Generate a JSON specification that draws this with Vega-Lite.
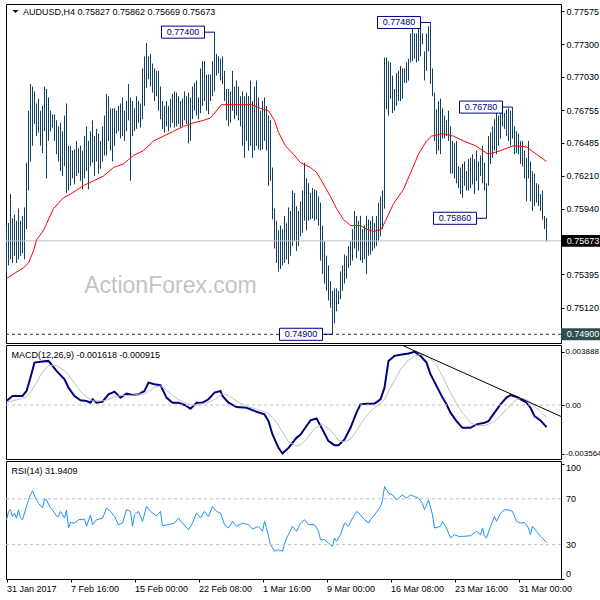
{
"$schema":"https://vega.github.io/schema/vega-lite/v6.json",
"padding":{"left":2,"top":3,"right":0,"bottom":0},
"spacing":2,
"bounds":"flush",
"background":"white",
"config":{"view":{"stroke":"black","strokeWidth":1},"font":"Liberation Sans"},
"datasets":{
"one":[{"k":1}],
"bars":[{"i":0,"h":0.758,"l":0.7541},{"i":1,"h":0.7582,"l":0.7547},{"i":2,"h":0.7606,"l":0.7552},{"i":3,"h":0.7586,"l":0.7549},{"i":4,"h":0.7589,"l":0.7555},{"i":5,"h":0.7584,"l":0.7549},{"i":6,"h":0.7594,"l":0.7552},{"i":7,"h":0.7584,"l":0.7555},{"i":8,"h":0.7588,"l":0.7557},{"i":9,"h":0.7595,"l":0.7552},
{"i":10,"h":0.7632,"l":0.7577},{"i":11,"h":0.7675,"l":0.7609},{"i":12,"h":0.7697,"l":0.7633},{"i":13,"h":0.7695,"l":0.7646},{"i":14,"h":0.7691,"l":0.7664},{"i":15,"h":0.7681,"l":0.7654},{"i":16,"h":0.7685,"l":0.7657},{"i":17,"h":0.7675,"l":0.7646},{"i":18,"h":0.7679,"l":0.764},{"i":19,"h":0.7695,"l":0.7658},
{"i":20,"h":0.7693,"l":0.7619},{"i":21,"h":0.7686,"l":0.765},{"i":22,"h":0.7675,"l":0.7658},{"i":23,"h":0.7672,"l":0.7661},{"i":24,"h":0.7672,"l":0.765},{"i":25,"h":0.7667,"l":0.7639},{"i":26,"h":0.7662,"l":0.7633},{"i":27,"h":0.7665,"l":0.7625},{"i":28,"h":0.7658,"l":0.7621},{"i":29,"h":0.7671,"l":0.7629},
{"i":30,"h":0.7681,"l":0.7607},{"i":31,"h":0.7646,"l":0.7609},{"i":32,"h":0.7646,"l":0.7613},{"i":33,"h":0.7642,"l":0.7619},{"i":34,"h":0.7643,"l":0.7614},{"i":35,"h":0.765,"l":0.7621},{"i":36,"h":0.7644,"l":0.7623},{"i":37,"h":0.7646,"l":0.7617},{"i":38,"h":0.7642,"l":0.761},{"i":39,"h":0.7654,"l":0.7619},
{"i":40,"h":0.7662,"l":0.7625},{"i":41,"h":0.765,"l":0.761},{"i":42,"h":0.7658,"l":0.7629},{"i":43,"h":0.7667,"l":0.7632},{"i":44,"h":0.7654,"l":0.7621},{"i":45,"h":0.766,"l":0.7633},{"i":46,"h":0.7656,"l":0.7623},{"i":47,"h":0.765,"l":0.7627},{"i":48,"h":0.7662,"l":0.7633},{"i":49,"h":0.7671,"l":0.7638},
{"i":50,"h":0.7689,"l":0.7638},{"i":51,"h":0.7687,"l":0.765},{"i":52,"h":0.7677,"l":0.7642},{"i":53,"h":0.7677,"l":0.7633},{"i":54,"h":0.7677,"l":0.7646},{"i":55,"h":0.7675,"l":0.7656},{"i":56,"h":0.7679,"l":0.7658},{"i":57,"h":0.7681,"l":0.7652},{"i":58,"h":0.7686,"l":0.7654},{"i":59,"h":0.7675,"l":0.765},
{"i":60,"h":0.7683,"l":0.7658},{"i":61,"h":0.7697,"l":0.7667},{"i":62,"h":0.7686,"l":0.7617},{"i":63,"h":0.7683,"l":0.7654},{"i":64,"h":0.7677,"l":0.7658},{"i":65,"h":0.7687,"l":0.766},{"i":66,"h":0.7683,"l":0.7665},{"i":67,"h":0.7681,"l":0.7661},{"i":68,"h":0.771,"l":0.7668},{"i":69,"h":0.772,"l":0.7679},
{"i":70,"h":0.7731,"l":0.7694},{"i":71,"h":0.772,"l":0.7701},{"i":72,"h":0.7722,"l":0.7695},{"i":73,"h":0.7714,"l":0.769},{"i":74,"h":0.771,"l":0.7683},{"i":75,"h":0.7708,"l":0.7687},{"i":76,"h":0.7708,"l":0.7675},{"i":77,"h":0.7695,"l":0.7668},{"i":78,"h":0.7683,"l":0.766},{"i":79,"h":0.7679,"l":0.7657},
{"i":80,"h":0.7683,"l":0.7662},{"i":81,"h":0.7679,"l":0.7658},{"i":82,"h":0.7685,"l":0.7661},{"i":83,"h":0.7689,"l":0.7665},{"i":84,"h":0.7691,"l":0.7661},{"i":85,"h":0.769,"l":0.7662},{"i":86,"h":0.7687,"l":0.7664},{"i":87,"h":0.7683,"l":0.7661},{"i":88,"h":0.7685,"l":0.7662},{"i":89,"h":0.7691,"l":0.7667},
{"i":90,"h":0.7687,"l":0.7664},{"i":91,"h":0.769,"l":0.7648},{"i":92,"h":0.7686,"l":0.765},{"i":93,"h":0.7695,"l":0.7668},{"i":94,"h":0.7698,"l":0.7675},{"i":95,"h":0.77,"l":0.7671},{"i":96,"h":0.7686,"l":0.7668},{"i":97,"h":0.771,"l":0.7673},{"i":98,"h":0.7716,"l":0.7679},{"i":99,"h":0.7716,"l":0.7683},
{"i":100,"h":0.7705,"l":0.7675},{"i":101,"h":0.7705,"l":0.7672},{"i":102,"h":0.7705,"l":0.7683},{"i":103,"h":0.7716,"l":0.7687},{"i":104,"h":0.774,"l":0.7691},{"i":105,"h":0.7722,"l":0.7704},{"i":106,"h":0.772,"l":0.7706},{"i":107,"h":0.7718,"l":0.77},{"i":108,"h":0.772,"l":0.7697},{"i":109,"h":0.7708,"l":0.7683},
{"i":110,"h":0.7693,"l":0.7667},{"i":111,"h":0.7693,"l":0.7662},{"i":112,"h":0.7691,"l":0.7665},{"i":113,"h":0.7708,"l":0.7675},{"i":114,"h":0.7695,"l":0.7668},{"i":115,"h":0.77,"l":0.7671},{"i":116,"h":0.7695,"l":0.7667},{"i":117,"h":0.7687,"l":0.7662},{"i":118,"h":0.7691,"l":0.7646},{"i":119,"h":0.7687,"l":0.7636},
{"i":120,"h":0.769,"l":0.765},{"i":121,"h":0.7687,"l":0.7642},{"i":122,"h":0.77,"l":0.7646},{"i":123,"h":0.7683,"l":0.7636},{"i":124,"h":0.7695,"l":0.7642},{"i":125,"h":0.77,"l":0.7646},{"i":126,"h":0.7686,"l":0.7643},{"i":127,"h":0.7675,"l":0.7642},{"i":128,"h":0.7683,"l":0.7643},{"i":129,"h":0.7686,"l":0.765},
{"i":130,"h":0.7679,"l":0.7642},{"i":131,"h":0.7671,"l":0.7613},{"i":132,"h":0.7667,"l":0.7617},{"i":133,"h":0.7628,"l":0.7585},{"i":134,"h":0.7594,"l":0.7561},{"i":135,"h":0.7584,"l":0.7549},{"i":136,"h":0.7576,"l":0.7542},{"i":137,"h":0.758,"l":0.7544},{"i":138,"h":0.7577,"l":0.7547},{"i":139,"h":0.7588,"l":0.7549},
{"i":140,"h":0.7582,"l":0.7552},{"i":141,"h":0.7595,"l":0.7548},{"i":142,"h":0.7592,"l":0.7555},{"i":143,"h":0.7609,"l":0.7563},{"i":144,"h":0.7607,"l":0.7567},{"i":145,"h":0.7596,"l":0.7559},{"i":146,"h":0.7592,"l":0.7563},{"i":147,"h":0.76,"l":0.7571},{"i":148,"h":0.7609,"l":0.7574},{"i":149,"h":0.7632,"l":0.7584},
{"i":150,"h":0.7619,"l":0.7576},{"i":151,"h":0.7615,"l":0.7584},{"i":152,"h":0.7607,"l":0.7585},{"i":153,"h":0.7611,"l":0.7586},{"i":154,"h":0.761,"l":0.7584},{"i":155,"h":0.7609,"l":0.7585},{"i":156,"h":0.7604,"l":0.758},{"i":157,"h":0.7599,"l":0.7551},{"i":158,"h":0.758,"l":0.754},{"i":159,"h":0.7567,"l":0.7532},
{"i":160,"h":0.7555,"l":0.7526},{"i":161,"h":0.7547,"l":0.7518},{"i":162,"h":0.7534,"l":0.7512},{"i":163,"h":0.7526,"l":0.749},{"i":164,"h":0.7528,"l":0.7499},{"i":165,"h":0.7528,"l":0.7509},{"i":166,"h":0.7526,"l":0.7515},{"i":167,"h":0.7542,"l":0.7519},{"i":168,"h":0.7547,"l":0.7526},{"i":169,"h":0.7556,"l":0.7532},
{"i":170,"h":0.7555,"l":0.7536},{"i":171,"h":0.7563,"l":0.7545},{"i":172,"h":0.7567,"l":0.7547},{"i":173,"h":0.7577,"l":0.7551},{"i":174,"h":0.7592,"l":0.7561},{"i":175,"h":0.7588,"l":0.7553},{"i":176,"h":0.7584,"l":0.7559},{"i":177,"h":0.7588,"l":0.7551},{"i":178,"h":0.7577,"l":0.7549},{"i":179,"h":0.758,"l":0.7552},
{"i":180,"h":0.7588,"l":0.754},{"i":181,"h":0.7585,"l":0.7555},{"i":182,"h":0.7584,"l":0.7556},{"i":183,"h":0.7588,"l":0.7559},{"i":184,"h":0.7582,"l":0.7561},{"i":185,"h":0.7588,"l":0.7563},{"i":186,"h":0.7599,"l":0.7567},{"i":187,"h":0.7604,"l":0.7571},{"i":188,"h":0.7609,"l":0.7577},{"i":189,"h":0.7719,"l":0.7594},
{"i":190,"h":0.7719,"l":0.7676},{"i":191,"h":0.7716,"l":0.7671},{"i":192,"h":0.7715,"l":0.7685},{"i":193,"h":0.7704,"l":0.7673},{"i":194,"h":0.7693,"l":0.7675},{"i":195,"h":0.7706,"l":0.7679},{"i":196,"h":0.7708,"l":0.7683},{"i":197,"h":0.7712,"l":0.7683},{"i":198,"h":0.771,"l":0.7685},{"i":199,"h":0.771,"l":0.7698},
{"i":200,"h":0.7715,"l":0.7698},{"i":201,"h":0.7718,"l":0.77},{"i":202,"h":0.7739,"l":0.7715},{"i":203,"h":0.7745,"l":0.7716},{"i":204,"h":0.7739,"l":0.7718},{"i":205,"h":0.7739,"l":0.7715},{"i":206,"h":0.7745,"l":0.7716},{"i":207,"h":0.7745,"l":0.772},{"i":208,"h":0.7739,"l":0.773},{"i":209,"h":0.7724,"l":0.77},
{"i":210,"h":0.7739,"l":0.7708},{"i":211,"h":0.7745,"l":0.7724},{"i":212,"h":0.7748,"l":0.7697},{"i":213,"h":0.771,"l":0.7687},{"i":214,"h":0.769,"l":0.765},{"i":215,"h":0.7676,"l":0.7639},{"i":216,"h":0.7683,"l":0.7642},{"i":217,"h":0.7685,"l":0.7639},{"i":218,"h":0.7677,"l":0.7652},{"i":219,"h":0.7671,"l":0.7652},
{"i":220,"h":0.7667,"l":0.7654},{"i":221,"h":0.7675,"l":0.765},{"i":222,"h":0.7662,"l":0.7623},{"i":223,"h":0.765,"l":0.7623},{"i":224,"h":0.7648,"l":0.7619},{"i":225,"h":0.765,"l":0.7615},{"i":226,"h":0.7629,"l":0.7611},{"i":227,"h":0.7628,"l":0.7606},{"i":228,"h":0.7631,"l":0.7603},{"i":229,"h":0.7633,"l":0.7613},
{"i":230,"h":0.7625,"l":0.7609},{"i":231,"h":0.7635,"l":0.7609},{"i":232,"h":0.7636,"l":0.7611},{"i":233,"h":0.7639,"l":0.7614},{"i":234,"h":0.7635,"l":0.7606},{"i":235,"h":0.7642,"l":0.7617},{"i":236,"h":0.7633,"l":0.7609},{"i":237,"h":0.7638,"l":0.7621},{"i":238,"h":0.7646,"l":0.7615},{"i":239,"h":0.7632,"l":0.7609},
{"i":240,"h":0.7615,"l":0.7586},{"i":241,"h":0.7654,"l":0.7613},{"i":242,"h":0.7657,"l":0.7631},{"i":243,"h":0.7662,"l":0.7636},{"i":244,"h":0.7668,"l":0.7642},{"i":245,"h":0.7675,"l":0.7639},{"i":246,"h":0.7671,"l":0.7646},{"i":247,"h":0.7676,"l":0.7652},{"i":248,"h":0.7675,"l":0.7662},{"i":249,"h":0.7673,"l":0.766},
{"i":250,"h":0.7676,"l":0.7654},{"i":251,"h":0.7677,"l":0.765},{"i":252,"h":0.7675,"l":0.7646},{"i":253,"h":0.7678,"l":0.7652},{"i":254,"h":0.7662,"l":0.7639},{"i":255,"h":0.7658,"l":0.764},{"i":256,"h":0.7656,"l":0.7639},{"i":257,"h":0.765,"l":0.7631},{"i":258,"h":0.765,"l":0.7629},{"i":259,"h":0.7642,"l":0.7619},
{"i":260,"h":0.7636,"l":0.76},{"i":261,"h":0.765,"l":0.7619},{"i":262,"h":0.7633,"l":0.76},{"i":263,"h":0.7625,"l":0.7592},{"i":264,"h":0.7623,"l":0.7596},{"i":265,"h":0.7615,"l":0.7599},{"i":266,"h":0.7614,"l":0.7596},{"i":267,"h":0.7606,"l":0.7592},{"i":268,"h":0.7609,"l":0.7585},{"i":269,"h":0.7588,"l":0.7577},
{"i":270,"h":0.75862,"l":0.75669}],
"ma":[{"i":0,"p":0.7536},{"i":4.5,"p":0.7541},{"i":8.5,"p":0.7545},{"i":11,"p":0.7549},{"i":13.5,"p":0.7559},{"i":15,"p":0.7568},{"i":18.5,"p":0.7576},{"i":23.5,"p":0.7594},{"i":28.5,"p":0.7603},{"i":32,"p":0.7606},{"i":38.5,"p":0.7613},{"i":43.5,"p":0.7617},{"i":48.5,"p":0.7621},{"i":53.5,"p":0.7628},{"i":58.5,"p":0.7631},{"i":63.5,"p":0.7638},{"i":68.5,"p":0.7642},{"i":73.5,"p":0.765},{"i":78.5,"p":0.7654},{"i":83.5,"p":0.7658},{"i":88.5,"p":0.7662},{"i":93.5,"p":0.7665},{"i":98.5,"p":0.7667},{"i":102,"p":0.7669},{"i":107.5,"p":0.768},{"i":122.5,"p":0.768},{"i":128.5,"p":0.7676},{"i":131,"p":0.7675},{"i":134,"p":0.7667},{"i":136,"p":0.7657},{"i":139.5,"p":0.7646},{"i":143.5,"p":0.7639},{"i":147,"p":0.7632},{"i":152,"p":0.7628},{"i":155,"p":0.7624},{"i":157.5,"p":0.7617},{"i":162,"p":0.7604},{"i":165,"p":0.7594},{"i":168.5,"p":0.7585},{"i":172,"p":0.758},{"i":177,"p":0.758},{"i":180,"p":0.7577},{"i":183.5,"p":0.7575},{"i":187.5,"p":0.7577},{"i":189.5,"p":0.7584},{"i":193.5,"p":0.7598},{"i":198.5,"p":0.761},{"i":206,"p":0.7639},{"i":210,"p":0.765},{"i":212.5,"p":0.7654},{"i":218.5,"p":0.7656},{"i":223.5,"p":0.7654},{"i":228.5,"p":0.765},{"i":234.5,"p":0.7646},{"i":241,"p":0.7639},{"i":247,"p":0.7642},{"i":253.5,"p":0.7646},{"i":260,"p":0.7645},{"i":265,"p":0.7639},{"i":270,"p":0.7633}],
"ann":[{"i":104,"p":0.774,"t":"0.77400"},{"i":212,"p":0.7748,"t":"0.77480"},{"i":253,"p":0.7678,"t":"0.76780"},{"i":240,"p":0.7586,"t":"0.75860"},{"i":163,"p":0.749,"t":"0.74900"}],
"hl":[{"p":0.75673,"c":"#000000","t":"0.75673"},{"p":0.749,"c":"#2f4f4f","t":"0.74900"}],
"macd":[{"i":0,"m":0.00029,"s":0.0002},{"i":3,"m":0.00066,"s":0.0003},{"i":8,"m":0.00066,"s":0.0005},{"i":10,"m":0.00103,"s":0.0006},{"i":12,"m":0.00201,"s":0.0009},{"i":14,"m":0.00311,"s":0.0014},{"i":18,"m":0.00319,"s":0.0024},{"i":21,"m":0.00323,"s":0.0029},{"i":25,"m":0.0025,"s":0.0029},{"i":29,"m":0.00189,"s":0.0025},{"i":31,"m":0.00127,"s":0.0022},{"i":34,"m":0.00066,"s":0.0016},{"i":37,"m":0.00034,"s":0.001},{"i":40,"m":0.00029,"s":0.0006},{"i":42,"m":0.00017,"s":0.0004},{"i":43,"m":0.00042,"s":0.0003},{"i":45,"m":0.00017,"s":0.0003},{"i":48,"m":0.00024,"s":0.0003},{"i":51,"m":0.00078,"s":0.0004},{"i":54,"m":0.00098,"s":0.0006},{"i":57,"m":0.00054,"s":0.0007},{"i":60,"m":0.00083,"s":0.0007},{"i":63,"m":0.00073,"s":0.0007},{"i":66,"m":0.00078,"s":0.0008},{"i":69,"m":0.00103,"s":0.0008},{"i":71,"m":0.00164,"s":0.001},{"i":74,"m":0.00152,"s":0.0013},{"i":77,"m":0.00145,"s":0.0014},{"i":80,"m":0.00054,"s":0.0011},{"i":83,"m":0.00017,"s":0.0007},{"i":86,"m":0.00017,"s":0.0004},{"i":89,"m":0.0,"s":0.0002},{"i":92,"m":-0.00027,"s":0.0},{"i":95,"m":0.00017,"s":0.0},{"i":98,"m":0.00017,"s":0.0001},{"i":101,"m":0.00042,"s":0.0002},{"i":104,"m":0.00091,"s":0.0004},{"i":107,"m":0.00103,"s":0.0007},{"i":108,"m":0.00066,"s":0.0008},{"i":111,"m":0.00017,"s":0.0007},{"i":115,"m":-0.00015,"s":0.0003},{"i":120,"m":-0.0002,"s":-0.0001},{"i":125,"m":-0.00049,"s":-0.0003},{"i":129,"m":-0.00069,"s":-0.0005},{"i":131,"m":-0.00118,"s":-0.0006},{"i":133,"m":-0.00216,"s":-0.0009},{"i":136,"m":-0.00314,"s":-0.0015},{"i":138,"m":-0.00356,"s":-0.002},{"i":141,"m":-0.00314,"s":-0.0027},{"i":145,"m":-0.0024,"s":-0.003},{"i":147,"m":-0.00216,"s":-0.0029},{"i":150,"m":-0.00154,"s":-0.0025},{"i":152,"m":-0.00113,"s":-0.0021},{"i":155,"m":-0.00098,"s":-0.0016},{"i":158,"m":-0.00179,"s":-0.0014},{"i":161,"m":-0.00265,"s":-0.0017},{"i":164,"m":-0.00294,"s":-0.0022},{"i":166,"m":-0.00294,"s":-0.0026},{"i":169,"m":-0.00252,"s":-0.0027},{"i":172,"m":-0.00167,"s":-0.0025},{"i":175,"m":-0.00056,"s":-0.0019},{"i":177,"m":0.00005,"s":-0.0014},{"i":180,"m":0.0001,"s":-0.0008},{"i":184,"m":0.0001,"s":-0.0002},{"i":187,"m":0.00042,"s":0.0001},{"i":189,"m":0.00127,"s":0.0004},{"i":191,"m":0.00323,"s":0.001},{"i":194,"m":0.0036,"s":0.0018},{"i":197,"m":0.00368,"s":0.0026},{"i":201,"m":0.00377,"s":0.0033},{"i":204,"m":0.00389,"s":0.0036},{"i":207,"m":0.0036,"s":0.0037},{"i":210,"m":0.00311,"s":0.0036},{"i":212,"m":0.00225,"s":0.0034},{"i":215,"m":0.0014,"s":0.0029},{"i":218,"m":0.00054,"s":0.0021},{"i":220,"m":0.00005,"s":0.0015},{"i":222,"m":-0.00056,"s":0.0009},{"i":225,"m":-0.00118,"s":0.0001},{"i":228,"m":-0.00167,"s":-0.0006},{"i":232,"m":-0.00167,"s":-0.0013},{"i":235,"m":-0.00142,"s":-0.0015},{"i":239,"m":-0.0013,"s":-0.0015},{"i":241,"m":-0.00118,"s":-0.0014},{"i":244,"m":-0.00056,"s":-0.0012},{"i":247,"m":0.00005,"s":-0.0008},{"i":250,"m":0.00054,"s":-0.0003},{"i":252,"m":0.00073,"s":0.0},{"i":255,"m":0.00059,"s":0.0004},{"i":258,"m":0.00034,"s":0.0005},{"i":260,"m":0.00017,"s":0.0004},{"i":262,"m":-0.0002,"s":0.0002},{"i":264,"m":-0.00081,"s":-0.0001},{"i":267,"m":-0.00113,"s":-0.0005},{"i":270,"m":-0.001618,"s":-0.000915}],
"rsi":[{"i":0,"r":51.7},{"i":1,"r":59},{"i":2,"r":60.4},{"i":3,"r":54.6},{"i":4,"r":57.5},{"i":5,"r":53},{"i":6,"r":60.4},{"i":7,"r":53.2},{"i":8,"r":51.7},{"i":10,"r":63.3},{"i":11,"r":69},{"i":12,"r":73.5},{"i":13,"r":77},{"i":15,"r":69},{"i":16,"r":66},{"i":18,"r":61.9},{"i":19,"r":69.7},{"i":20,"r":69},{"i":22,"r":62},{"i":23,"r":60.4},{"i":25,"r":55},{"i":26,"r":54.6},{"i":27,"r":59},{"i":29,"r":53.2},{"i":30,"r":60},{"i":31,"r":44.5},{"i":32,"r":49.4},{"i":34,"r":48.8},{"i":36,"r":51.7},{"i":39,"r":52.3},{"i":40,"r":46},{"i":42,"r":56},{"i":43,"r":47.4},{"i":45,"r":51.7},{"i":48,"r":53},{"i":50,"r":62},{"i":52,"r":59},{"i":54,"r":54.6},{"i":56,"r":47.4},{"i":58,"r":48.8},{"i":60,"r":60.4},{"i":62,"r":59},{"i":63,"r":46},{"i":64,"r":56},{"i":66,"r":59},{"i":68,"r":50.3},{"i":70,"r":63.3},{"i":72,"r":59},{"i":75,"r":55},{"i":77,"r":59},{"i":78,"r":46.5},{"i":81,"r":47.4},{"i":84,"r":48.8},{"i":86,"r":53.2},{"i":88,"r":48.8},{"i":91,"r":43},{"i":93,"r":48.8},{"i":95,"r":57.5},{"i":97,"r":53.2},{"i":99,"r":59},{"i":101,"r":54.6},{"i":103,"r":63.3},{"i":105,"r":59},{"i":107,"r":57.5},{"i":109,"r":47.4},{"i":111,"r":44.5},{"i":113,"r":50.3},{"i":115,"r":46},{"i":118,"r":48.8},{"i":121,"r":47.4},{"i":123,"r":43.6},{"i":126,"r":46},{"i":128,"r":41.6},{"i":129,"r":50.3},{"i":130,"r":44.5},{"i":132,"r":30},{"i":134,"r":24.2},{"i":136,"r":25.6},{"i":138,"r":24.2},{"i":140,"r":35.8},{"i":141,"r":38.7},{"i":143,"r":46},{"i":145,"r":41.6},{"i":147,"r":48.8},{"i":149,"r":51.7},{"i":151,"r":47.4},{"i":154,"r":47.4},{"i":156,"r":41.6},{"i":157,"r":34.3},{"i":159,"r":34.3},{"i":161,"r":31.4},{"i":163,"r":28.5},{"i":164,"r":35.8},{"i":165,"r":32.9},{"i":167,"r":38.7},{"i":169,"r":48.8},{"i":171,"r":46},{"i":173,"r":53.2},{"i":175,"r":59},{"i":177,"r":56},{"i":179,"r":51.7},{"i":181,"r":48.8},{"i":182,"r":51.7},{"i":184,"r":56},{"i":187,"r":63.3},{"i":188,"r":69},{"i":189,"r":80.7},{"i":191,"r":75},{"i":193,"r":73.5},{"i":195,"r":69},{"i":196,"r":70.6},{"i":198,"r":73.5},{"i":200,"r":70.6},{"i":202,"r":73.5},{"i":204,"r":72},{"i":206,"r":70.6},{"i":208,"r":66},{"i":209,"r":60.4},{"i":211,"r":69},{"i":213,"r":56},{"i":214,"r":44.5},{"i":217,"r":46},{"i":218,"r":50.3},{"i":220,"r":44.5},{"i":222,"r":35.8},{"i":224,"r":38.7},{"i":226,"r":37.2},{"i":228,"r":37.2},{"i":232,"r":37.8},{"i":235,"r":41.6},{"i":237,"r":38.7},{"i":238,"r":44.5},{"i":239,"r":37.2},{"i":240,"r":35.8},{"i":242,"r":46},{"i":244,"r":54.6},{"i":245,"r":50.3},{"i":247,"r":57.5},{"i":249,"r":60.4},{"i":251,"r":60.4},{"i":253,"r":59},{"i":255,"r":50.3},{"i":257,"r":48.8},{"i":259,"r":49.4},{"i":261,"r":44.5},{"i":262,"r":38.7},{"i":263,"r":46},{"i":265,"r":41.6},{"i":267,"r":37.2},{"i":270,"r":31.94}]
},
"vconcat":[
{"width":555,"height":339,
 "layer":[
  {"data":{"name":"bars"},"mark":{"type":"rule","color":"#133f5c","strokeWidth":1},
   "encoding":{"x":{"field":"i","type":"quantitative","scale":{"domain":[-0.25,277.25],"nice":false,"zero":false},"axis":null},
    "y":{"field":"l","type":"quantitative","scale":{"domain":[0.74828,0.77633],"nice":false,"zero":false},
     "axis":{"orient":"right","title":null,"values":[0.77575,0.773,0.7703,0.76755,0.76485,0.7621,0.7594,0.75395,0.7512],"format":".5f","labelOverlap":false,"grid":false,"domain":false,"tickSize":3,"tickColor":"black","labelPadding":2,"labelFontSize":9,"labelColor":"black","labelFont":"Liberation Sans"}},
    "y2":{"field":"h"}}},
  {"data":{"name":"one"},"mark":{"type":"text","font":"Liberation Sans","fontSize":23,"color":"#c4c4c4","align":"center","baseline":"middle"},
   "encoding":{"x":{"datum":82,"type":"quantitative","scale":{"domain":[-0.25,277.25],"nice":false,"zero":false},"axis":null},
    "y":{"datum":0.753,"type":"quantitative","scale":{"domain":[0.74828,0.77633],"nice":false,"zero":false}},
    "text":{"value":"ActionForex.com"}}},
  {"data":{"name":"one"},"mark":{"type":"rule","color":"#c0c0c0","strokeWidth":1},
   "encoding":{"y":{"datum":0.75673,"type":"quantitative","scale":{"domain":[0.74828,0.77633],"nice":false,"zero":false}}}},
  {"data":{"name":"one"},"mark":{"type":"rule","color":"#303030","strokeWidth":1,"strokeDash":[3,3]},
   "encoding":{"y":{"datum":0.749,"type":"quantitative","scale":{"domain":[0.74828,0.77633],"nice":false,"zero":false}}}},
  {"data":{"name":"ma"},"mark":{"type":"line","color":"#ff0000","strokeWidth":1},
   "encoding":{"x":{"field":"i","type":"quantitative","scale":{"domain":[-0.25,277.25],"nice":false,"zero":false},"axis":null},
    "y":{"field":"p","type":"quantitative","scale":{"domain":[0.74828,0.77633],"nice":false,"zero":false}}}},
  {"data":{"name":"ann"},"mark":{"type":"rule","color":"#000080","strokeWidth":1,"xOffset":-10},
   "encoding":{"x":{"field":"i","type":"quantitative","scale":{"domain":[-0.25,277.25],"nice":false,"zero":false},"axis":null},
    "x2":{"field":"i"},
    "y":{"field":"p","type":"quantitative","scale":{"domain":[0.74828,0.77633],"nice":false,"zero":false}}}},
  {"data":{"name":"ann"},"mark":{"type":"point","shape":"M-1,-0.28H1V0.28H-1Z","size":1849,"filled":true,"fill":"white","stroke":"#000080","strokeWidth":1,"opacity":1,"xOffset":-31.5},
   "encoding":{"x":{"field":"i","type":"quantitative","scale":{"domain":[-0.25,277.25],"nice":false,"zero":false},"axis":null},
    "y":{"field":"p","type":"quantitative","scale":{"domain":[0.74828,0.77633],"nice":false,"zero":false}}}},
  {"data":{"name":"ann"},"mark":{"type":"text","font":"Liberation Sans","fontSize":9,"color":"#000080","align":"center","baseline":"middle","xOffset":-31.5},
   "encoding":{"x":{"field":"i","type":"quantitative","scale":{"domain":[-0.25,277.25],"nice":false,"zero":false},"axis":null},
    "y":{"field":"p","type":"quantitative","scale":{"domain":[0.74828,0.77633],"nice":false,"zero":false}},
    "text":{"field":"t"}}},
  {"data":{"name":"hl"},"mark":{"type":"point","shape":"M-1,-0.27H1V0.27H-1Z","size":1936,"filled":true,"opacity":1,"strokeWidth":0,"xOffset":22,"clip":false},
   "encoding":{"x":{"datum":277.25,"type":"quantitative","scale":{"domain":[-0.25,277.25],"nice":false,"zero":false},"axis":null},
    "y":{"field":"p","type":"quantitative","scale":{"domain":[0.74828,0.77633],"nice":false,"zero":false}},
    "fill":{"field":"c","type":"nominal","scale":null,"legend":null}}},
  {"data":{"name":"hl"},"mark":{"type":"text","font":"Liberation Sans","fontSize":9,"color":"white","align":"center","baseline":"middle","xOffset":22,"clip":false},
   "encoding":{"x":{"datum":277.25,"type":"quantitative","scale":{"domain":[-0.25,277.25],"nice":false,"zero":false},"axis":null},
    "y":{"field":"p","type":"quantitative","scale":{"domain":[0.74828,0.77633],"nice":false,"zero":false}},
    "text":{"field":"t"}}},
  {"data":{"name":"one"},"mark":{"type":"point","shape":"M-1,-0.5L1,-0.5L0,0.5Z","size":36,"filled":true,"fill":"black","opacity":1,"strokeWidth":0,"xOffset":9.5},
   "encoding":{"x":{"datum":-0.25,"type":"quantitative","scale":{"domain":[-0.25,277.25],"nice":false,"zero":false},"axis":null},
    "y":{"datum":0.7757,"type":"quantitative","scale":{"domain":[0.74828,0.77633],"nice":false,"zero":false}}}},
  {"data":{"name":"one"},"mark":{"type":"text","font":"Liberation Sans","fontSize":9,"color":"black","align":"left","baseline":"middle","xOffset":17},
   "encoding":{"x":{"datum":-0.25,"type":"quantitative","scale":{"domain":[-0.25,277.25],"nice":false,"zero":false},"axis":null},
    "y":{"datum":0.7757,"type":"quantitative","scale":{"domain":[0.74828,0.77633],"nice":false,"zero":false}},
    "text":{"value":"AUDUSD,H4  0.75827 0.75862 0.75669 0.75673"}}}
 ]},
{"width":555,"height":114,
 "layer":[
  {"data":{"name":"macd"},"mark":{"type":"line","color":"#000080","strokeWidth":2},
   "encoding":{"x":{"field":"i","type":"quantitative","scale":{"domain":[-0.25,277.25],"nice":false,"zero":false},"axis":null},
    "y":{"field":"m","type":"quantitative","scale":{"domain":[-0.003956,0.004396],"nice":false,"zero":false},
     "axis":{"orient":"right","title":null,"values":[0.003888,0,-0.003564],"labelExpr":"datum.value == 0 ? '0.00' : '' + datum.value","labelOverlap":false,"grid":false,"domain":false,"tickSize":3,"tickColor":"black","labelPadding":1,"labelFontSize":8,"labelColor":"black","labelFont":"Liberation Sans"}}}},
  {"data":{"name":"one"},"mark":{"type":"rule","color":"#c0c0c0","strokeWidth":1,"strokeDash":[3,3]},
   "encoding":{"y":{"datum":0,"type":"quantitative","scale":{"domain":[-0.003956,0.004396],"nice":false,"zero":false}}}},
  {"data":{"name":"macd"},"mark":{"type":"line","color":"#c0c0c0","strokeWidth":1},
   "encoding":{"x":{"field":"i","type":"quantitative","scale":{"domain":[-0.25,277.25],"nice":false,"zero":false},"axis":null},
    "y":{"field":"s","type":"quantitative","scale":{"domain":[-0.003956,0.004396],"nice":false,"zero":false}}}},
  {"data":{"values":[{"i1":197.5,"v1":0.0044,"i2":277.25,"v2":-0.00084}]},"mark":{"type":"rule","color":"black","strokeWidth":1,"clip":true},
   "encoding":{"x":{"field":"i1","type":"quantitative","scale":{"domain":[-0.25,277.25],"nice":false,"zero":false},"axis":null},
    "x2":{"field":"i2"},
    "y":{"field":"v1","type":"quantitative","scale":{"domain":[-0.003956,0.004396],"nice":false,"zero":false}},
    "y2":{"field":"v2"}}},
  {"data":{"name":"one"},"mark":{"type":"text","font":"Liberation Sans","fontSize":9,"color":"black","align":"left","baseline":"middle","xOffset":5.5},
   "encoding":{"x":{"datum":-0.25,"type":"quantitative","scale":{"domain":[-0.25,277.25],"nice":false,"zero":false},"axis":null},
    "y":{"datum":0.0037,"type":"quantitative","scale":{"domain":[-0.003956,0.004396],"nice":false,"zero":false}},
    "text":{"value":"MACD(12,26,9) -0.001618 -0.000915"}}}
 ]},
{"width":555,"height":118,
 "layer":[
  {"data":{"name":"rsi"},"mark":{"type":"line","color":"#1e90ff","strokeWidth":1},
   "encoding":{"x":{"field":"i","type":"quantitative","scale":{"domain":[-0.25,277.25],"nice":false,"zero":false},
     "axis":{"orient":"bottom","title":null,"values":[0,32,64,96,128,160,192,224,256],"labelExpr":"['31 Jan 2017','7 Feb 16:00','15 Feb 00:00','22 Feb 08:00','1 Mar 16:00','9 Mar 00:00','16 Mar 08:00','23 Mar 16:00','31 Mar 00:00'][round(datum.value/32)]","labelAlign":"left","labelFlush":false,"labelOverlap":false,"grid":false,"domain":false,"tickSize":3,"tickColor":"black","labelPadding":2,"labelFontSize":9,"labelColor":"black","labelFont":"Liberation Sans"}},
    "y":{"field":"r","type":"quantitative","scale":{"domain":[0,103],"nice":false,"zero":false},
     "axis":{"orient":"right","title":null,"values":[0,30,70,100],"labels":false,"grid":false,"domain":false,"tickSize":3,"tickColor":"black"}}}},
  {"data":{"values":[{"v":70},{"v":30}]},"mark":{"type":"rule","color":"#c0c0c0","strokeWidth":1,"strokeDash":[3,3]},
   "encoding":{"y":{"field":"v","type":"quantitative","scale":{"domain":[0,103],"nice":false,"zero":false}}}},
  {"data":{"name":"one"},"mark":{"type":"text","font":"Liberation Sans","fontSize":9,"color":"black","align":"left","baseline":"top","xOffset":5,"clip":false},
   "encoding":{"x":{"datum":277.25,"type":"quantitative","scale":{"domain":[-0.25,277.25],"nice":false,"zero":false}},
    "y":{"datum":100,"type":"quantitative","scale":{"domain":[0,103],"nice":false,"zero":false}},
    "text":{"value":"100"}}},
  {"data":{"name":"one"},"mark":{"type":"text","font":"Liberation Sans","fontSize":9,"color":"black","align":"left","baseline":"middle","xOffset":5,"clip":false},
   "encoding":{"x":{"datum":277.25,"type":"quantitative","scale":{"domain":[-0.25,277.25],"nice":false,"zero":false}},
    "y":{"datum":70,"type":"quantitative","scale":{"domain":[0,103],"nice":false,"zero":false}},
    "text":{"value":"70"}}},
  {"data":{"name":"one"},"mark":{"type":"text","font":"Liberation Sans","fontSize":9,"color":"black","align":"left","baseline":"middle","xOffset":5,"clip":false},
   "encoding":{"x":{"datum":277.25,"type":"quantitative","scale":{"domain":[-0.25,277.25],"nice":false,"zero":false}},
    "y":{"datum":30,"type":"quantitative","scale":{"domain":[0,103],"nice":false,"zero":false}},
    "text":{"value":"30"}}},
  {"data":{"name":"one"},"mark":{"type":"text","font":"Liberation Sans","fontSize":9,"color":"black","align":"left","baseline":"bottom","xOffset":5,"clip":false},
   "encoding":{"x":{"datum":277.25,"type":"quantitative","scale":{"domain":[-0.25,277.25],"nice":false,"zero":false}},
    "y":{"datum":0,"type":"quantitative","scale":{"domain":[0,103],"nice":false,"zero":false}},
    "text":{"value":"0"}}},
  {"data":{"name":"one"},"mark":{"type":"text","font":"Liberation Sans","fontSize":9,"color":"black","align":"left","baseline":"middle","xOffset":5.5},
   "encoding":{"x":{"datum":-0.25,"type":"quantitative","scale":{"domain":[-0.25,277.25],"nice":false,"zero":false}},
    "y":{"datum":94.2,"type":"quantitative","scale":{"domain":[0,103],"nice":false,"zero":false}},
    "text":{"value":"RSI(14) 31.9409"}}}
 ]}
]
}
